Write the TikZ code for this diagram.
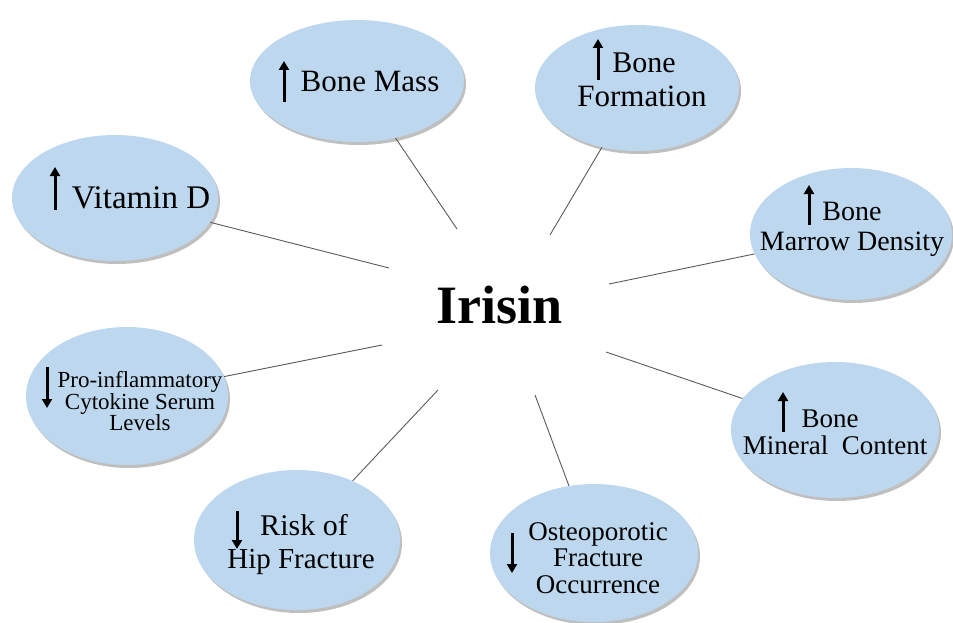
\documentclass[tikz,border=0pt]{standalone}
\usepackage{fontspec}
\setmainfont{Liberation Serif}
\usetikzlibrary{shapes.geometric,shadows,arrows.meta}
\definecolor{bubble}{RGB}{189,215,238}
\definecolor{linkgray}{RGB}{90,90,90}
\tikzset{
  bubble/.style={ellipse, fill=bubble, inner sep=0pt,
    drop shadow={shadow xshift=2pt, shadow yshift=-3pt, opacity=0.25, fill=black}},
  link/.style={draw=linkgray, line width=0.9pt},
  txt/.style={anchor=base, inner sep=0pt, text=black},
  updown/.style={line width=3pt, -{Triangle[width=10pt,length=9pt]}},
}
\newcommand{\fs}[1]{\fontsize{#1}{#1}\selectfont}
\begin{document}
\begin{tikzpicture}[x=1pt,y=-1pt]
\useasboundingbox (0,0) rectangle (953,623);
% ellipses
\node[bubble, minimum width=214pt, minimum height=122pt] (mass) at (357,81) {};
\node[bubble, minimum width=204pt, minimum height=126pt] (form) at (637,88) {};
\node[bubble, minimum width=206pt, minimum height=126pt] (vitd) at (115,198) {};
\node[bubble, minimum width=202pt, minimum height=132pt] (marrow) at (851,234) {};
\node[bubble, minimum width=202pt, minimum height=138pt] (cyto) at (127,396) {};
\node[bubble, minimum width=208pt, minimum height=136pt] (mineral) at (835,430) {};
\node[bubble, minimum width=206pt, minimum height=140pt] (hip) at (297,540) {};
\node[bubble, minimum width=208pt, minimum height=138pt] (osteo) at (594,553) {};
% centre
\node[txt, font=\fs{54}\bfseries] (irisin) at (500,323) {Irisin};
% free ends
\coordinate (c1) at (457,229);
\coordinate (c2) at (550,235);
\coordinate (c3) at (389,268);
\coordinate (c4) at (609,284);
\coordinate (c5) at (382,345);
\coordinate (c6) at (606,352);
\coordinate (c7) at (438,390);
\coordinate (c8) at (535,395);
\draw[link] (mass) -- (c1);
\draw[link] (form) -- (c2);
\draw[link] (vitd) -- (c3);
\draw[link] (marrow) -- (c4);
\draw[link] (cyto) -- (c5);
\draw[link] (mineral) -- (c6);
\draw[link] (hip) -- (c7);
\draw[link] (osteo) -- (c8);
% texts
\node[txt, font=\fs{31}] (tmass) at (370,92) {Bone Mass};
\node[txt, font=\fs{30}] (tform1) at (644,73) {Bone};
\node[txt, font=\fs{31}] (tform2) at (642,107) {Formation};
\node[txt, font=\fs{33}] (tvitd) at (141,208) {Vitamin D};
\node[txt, font=\fs{28}] (tmar1) at (852,220) {Bone};
\node[txt, font=\fs{28}] (tmar2) at (852,250) {Marrow Density};
\node[txt, font=\fs{23}] (tcy1) at (140,387) {Pro-inflammatory};
\node[txt, font=\fs{23}] (tcy2) at (140,409) {Cytokine Serum};
\node[txt, font=\fs{23}] (tcy3) at (140,430) {Levels};
\node[txt, font=\fs{27}] (tmin1) at (830,427) {Bone};
\node[txt, font=\fs{27}] (tmin2) at (835,454) {Mineral\ \ Content};
\node[txt, font=\fs{30}] (thip1) at (304,535) {Risk of};
\node[txt, font=\fs{29}] (thip2) at (301,568) {Hip Fracture};
\node[txt, font=\fs{27}] (tost1) at (598,540) {Osteoporotic};
\node[txt, font=\fs{27}] (tost2) at (598,566) {Fracture};
\node[txt, font=\fs{27}] (tost3) at (598,593) {Occurrence};
% arrows
\draw[updown] (284,102) -- (284,61);
\draw[updown] (598,80) -- (598,39);
\draw[updown] (55,210) -- (55,167);
\draw[updown] (809,225) -- (809,185);
\draw[updown] (47,367) -- (47,408);
\draw[updown] (783,432) -- (783,392);
\draw[updown] (237,511) -- (237,549);
\draw[updown] (512,533) -- (512,573);
\end{tikzpicture}
\end{document}
